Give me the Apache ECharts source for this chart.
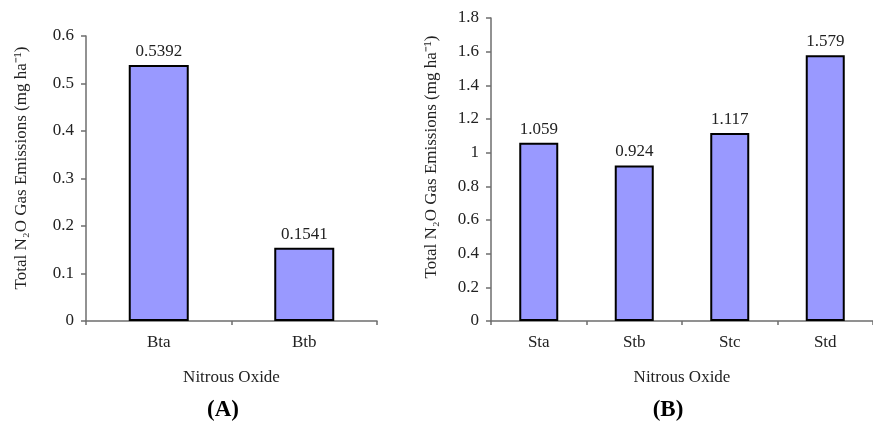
<!DOCTYPE html>
<html>
<head>
<meta charset="utf-8">
<style>
  html, body { margin: 0; padding: 0; background: #fff; }
  #chart { width: 873px; height: 422px; }
</style>
<script src="https://cdn.jsdelivr.net/npm/echarts@6/dist/echarts.min.js"></script>
</head>
<body>
<div id="chart"></div>
<script>
// Panel A: biochar treatments
var categoriesA = ['Bta', 'Btb'];
var valuesA = [0.5392, 0.1541];
var ticksA = { min: 0, max: 0.6, interval: 0.1 };

// Panel B: straw treatments
var categoriesB = ['Sta', 'Stb', 'Stc', 'Std'];
var valuesB = [1.059, 0.924, 1.117, 1.579];
var ticksB = { min: 0, max: 1.8, interval: 0.2 };

var yTitle = 'Total N\u2082O Gas Emissions (mg ha\u207B\u00B9)';
var xTitle = 'Nitrous Oxide';
var panelTitles = ['(A)', '(B)'];

var FONT = '"Liberation Serif", "Times New Roman", serif';
var FS = 17;
var TEXT = '#222';
var AXIS = '#6e6e6e';

function xAxisFor(cats, gridIndex) {
  return {
    type: 'category', gridIndex: gridIndex, data: cats,
    name: xTitle, nameLocation: 'middle', nameGap: 48,
    nameTextStyle: { fontFamily: FONT, fontSize: FS, color: TEXT },
    axisLine: { lineStyle: { color: AXIS, width: 1.5 } },
    axisTick: { show: true, length: 4, inside: false, lineStyle: { color: AXIS, width: 1.5 } },
    axisLabel: { fontFamily: FONT, fontSize: FS, color: TEXT, margin: 13 },
    splitLine: { show: false }
  };
}

function yAxisFor(t, gridIndex) {
  return {
    type: 'value', gridIndex: gridIndex, min: t.min, max: t.max, interval: t.interval,
    axisLine: { show: true, lineStyle: { color: AXIS, width: 1.5 } },
    axisTick: { show: true, length: 5, lineStyle: { color: AXIS, width: 1.5 } },
    axisLabel: { fontFamily: FONT, fontSize: FS, color: TEXT, margin: 12 },
    splitLine: { show: false }
  };
}

function barSeries(vals, idx, width) {
  return {
    type: 'bar', xAxisIndex: idx, yAxisIndex: idx, data: vals, barWidth: width,
    itemStyle: { color: '#9999FF', borderColor: '#000', borderWidth: 2 },
    label: { show: true, position: 'top', distance: 5, fontFamily: FONT, fontSize: FS, color: TEXT }
  };
}

var chart = echarts.init(document.getElementById('chart'), null, { renderer: 'canvas' });
chart.setOption({
  animation: false,
  backgroundColor: '#fff',
  grid: [
    { left: 86, top: 36, width: 291, height: 285 },
    { left: 491, top: 18, width: 392, height: 303 }
  ],
  xAxis: [xAxisFor(categoriesA, 0), xAxisFor(categoriesB, 1)],
  yAxis: [yAxisFor(ticksA, 0), yAxisFor(ticksB, 1)],
  series: [barSeries(valuesA, 0, 60), barSeries(valuesB, 1, 39)],
  graphic: [
    { type: 'text', x: 22, y: 168, rotation: Math.PI / 2,
      style: { text: yTitle, fontFamily: FONT, fontSize: FS, fill: TEXT, align: 'center', verticalAlign: 'middle' } },
    { type: 'text', x: 432, y: 157, rotation: Math.PI / 2,
      style: { text: yTitle, fontFamily: FONT, fontSize: FS, fill: TEXT, align: 'center', verticalAlign: 'middle' } },
    { type: 'text', x: 223, y: 410,
      style: { text: panelTitles[0], fontFamily: FONT, fontSize: 23, fontWeight: 'bold', fill: '#000', align: 'center', verticalAlign: 'middle' } },
    { type: 'text', x: 668, y: 410,
      style: { text: panelTitles[1], fontFamily: FONT, fontSize: 23, fontWeight: 'bold', fill: '#000', align: 'center', verticalAlign: 'middle' } }
  ]
});
</script>
</body>
</html>
